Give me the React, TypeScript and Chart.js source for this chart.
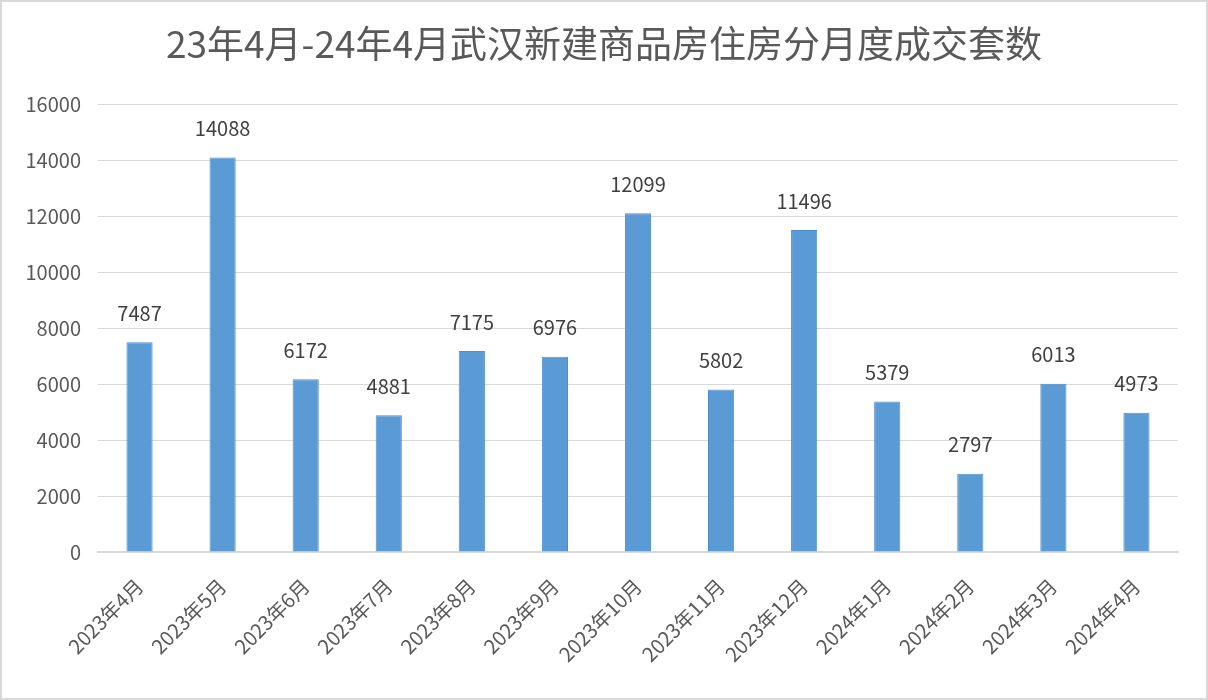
import React, { useEffect, useRef } from "react";
import { Chart, registerables } from "chart.js";

Chart.register(...registerables);

const title = "23年4月-24年4月武汉新建商品房住房分月度成交套数";
const categories = [
  "2023年4月", "2023年5月", "2023年6月", "2023年7月", "2023年8月", "2023年9月",
  "2023年10月", "2023年11月", "2023年12月", "2024年1月", "2024年2月", "2024年3月", "2024年4月",
];
const values = [7487, 14088, 6172, 4881, 7175, 6976, 12099, 5802, 11496, 5379, 2797, 6013, 4973];
const yTicks = [0, 2000, 4000, 6000, 8000, 10000, 12000, 14000, 16000];

const FONT = '"Noto Sans CJK SC", "Noto Sans", sans-serif';

export default function App() {
  const ref = useRef<HTMLCanvasElement | null>(null);

  useEffect(() => {
    document.body.style.margin = "0";
    const canvas = ref.current;
    if (!canvas) return;

    const labelPlugin = {
      id: "valueLabels",
      afterDatasetsDraw(chart: any) {
        const ctx = chart.ctx;
        const meta = chart.getDatasetMeta(0);
        ctx.save();
        ctx.font = `20px ${FONT}`;
        ctx.fillStyle = "#404040";
        ctx.textAlign = "center";
        ctx.textBaseline = "middle";
        meta.data.forEach((bar: any, i: number) => {
          ctx.fillText(String(values[i]), bar.x, bar.y - 29);
        });
        ctx.restore();
      },
    };

    const titlePlugin = {
      id: "customTitle",
      afterDraw(chart: any) {
        const ctx = chart.ctx;
        ctx.save();
        ctx.font = `37px ${FONT}`;
        ctx.fillStyle = "#595959";
        ctx.textAlign = "center";
        ctx.textBaseline = "middle";
        ctx.fillText(title, 604, 44);
        ctx.strokeStyle = "#d9d9d9";
        ctx.lineWidth = 2;
        ctx.strokeRect(1, 1, chart.width - 2, chart.height - 2);
        ctx.restore();
      },
    };

    const chart = new Chart(canvas, {
      type: "bar",
      data: {
        labels: categories,
        datasets: [
          {
            data: values,
            backgroundColor: "#5b9bd5",
            borderColor: "#4e8ecb",
            borderWidth: 1,
            categoryPercentage: 0.315,
            barPercentage: 1,
          },
        ],
      },
      options: {
        animation: false,
        responsive: false,
        maintainAspectRatio: false,
        layout: { padding: { top: 104, right: 30, left: 0, bottom: 0 } },
        plugins: {
          legend: { display: false },
          title: { display: false },
          tooltip: { enabled: false },
        },
        scales: {
          x: {
            grid: { display: false, drawTicks: false },
            border: { display: true, color: "#d9d9d9", width: 2 },
            ticks: {
              color: "#595959",
              font: { size: 20, family: FONT },
              minRotation: 45,
              maxRotation: 45,
              padding: 22,
            },
            afterFit(scale: any) {
              scale.height = 148;
            },
          },
          y: {
            min: 0,
            max: 16000,
            afterBuildTicks(scale: any) {
              scale.ticks = yTicks.map((v) => ({ value: v }));
            },
            grid: { color: "#d9d9d9", lineWidth: 1, drawTicks: false },
            border: { display: false },
            ticks: {
              color: "#595959",
              font: { size: 20, family: FONT },
              padding: 17,
              callback: (v: any) => String(v),
            },
            afterFit(scale: any) {
              scale.width = 98;
            },
          },
        },
      },
      plugins: [labelPlugin, titlePlugin],
    });

    return () => chart.destroy();
  }, []);

  return (
    <div style={{ width: 1208, height: 700, background: "#fff" }}>
      <canvas ref={ref} width={1208} height={700} style={{ display: "block" }} />
    </div>
  );
}
